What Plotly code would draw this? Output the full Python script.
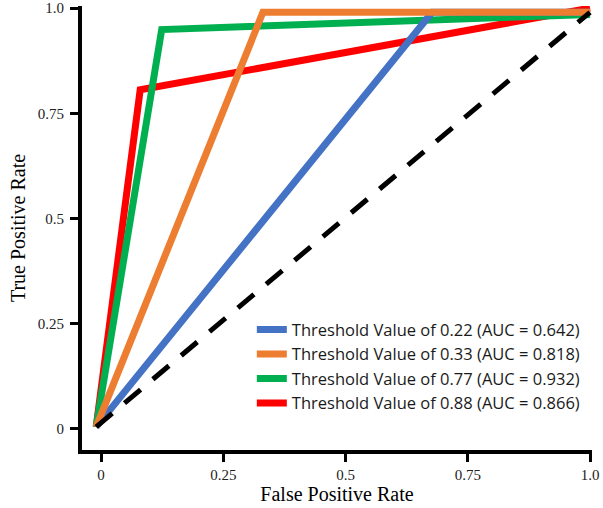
import plotly.graph_objects as go

# Data
labels = [
    "Threshold Value of 0.22 (AUC = 0.642)",
    "Threshold Value of 0.33 (AUC = 0.818)",
    "Threshold Value of 0.77 (AUC = 0.932)",
    "Threshold Value of 0.88 (AUC = 0.866)",
]
fpr_022 = [-0.01, 0.677, 1.0]
tpr_022 = [0.005, 0.99, 0.99]
fpr_033 = [-0.01, 0.331, 1.0]
tpr_033 = [0.005, 0.99, 0.99]
fpr_077 = [-0.01, 0.124, 1.0]
tpr_077 = [0.005, 0.949, 0.985]
fpr_088 = [-0.01, 0.08, 1.0]
tpr_088 = [0.005, 0.806, 1.0]
fpr_chance = [-0.01, 1.0]
tpr_chance = [0.005, 0.99]

colors = ["#4472C4", "#ED7D31", "#00B050", "#FF0000"]

tick_vals = [0, 0.25, 0.5, 0.75, 1.0]
x_tick_text = ["0", "0.25", "0.5", "0.75", "1.0"]
y_tick_text = ["0", "0.25", "0.5", "0.75", "1.0"]

series = [
    (fpr_022, tpr_022, labels[0], colors[0], 1),
    (fpr_033, tpr_033, labels[1], colors[1], 2),
    (fpr_077, tpr_077, labels[2], colors[2], 3),
    (fpr_088, tpr_088, labels[3], colors[3], 4),
]
# drawing order (bottom to top): red, green, blue, orange
draw_order = [3, 2, 0, 1]

fig = go.Figure()
for i in draw_order:
    x, y, name, c, rank = series[i]
    fig.add_trace(go.Scatter(
        x=x, y=y, mode="lines", name=name,
        line=dict(color=c, width=7),
        legendrank=rank,
    ))

fig.add_trace(go.Scatter(
    x=fpr_chance, y=tpr_chance, mode="lines", showlegend=False,
    line=dict(color="black", width=5, dash="21px,16px"),
))

serif = "Liberation Serif"
axis_common = dict(
    showline=True, linecolor="black", linewidth=4,
    ticks="outside", ticklen=8, tickwidth=3, tickcolor="black",
    showgrid=False, zeroline=False, automargin=False,
    tickfont=dict(family=serif, size=15, color="#222"),
    tickvals=tick_vals,
)

fig.update_layout(
    width=603, height=508,
    margin=dict(l=82, r=11, t=6, b=58),
    paper_bgcolor="white", plot_bgcolor="white",
    font=dict(family=serif, size=15, color="#222"),
    xaxis=dict(range=[-0.039, 1.004], ticktext=x_tick_text,
               title=dict(text="False Positive Rate", standoff=4,
                          font=dict(family=serif, size=20, color="black")),
               **axis_common),
    yaxis=dict(range=[-0.05, 1.005], ticktext=y_tick_text,
               ticklabelstandoff=3,
               title=dict(text="True Positive Rate", standoff=8,
                          font=dict(family=serif, size=20, color="black")),
               **axis_common),
    legend=dict(
        x=0.333, y=0.31, xanchor="left", yanchor="top",
        font=dict(family="Open Sans", size=16.5, color="#1a1a1a"),
        bgcolor="rgba(0,0,0,0)", tracegroupgap=0,
    ),
    showlegend=True,
)

fig.write_html(
    "out.html",
    config={"displayModeBar": False},
    post_script="document.body.style.margin='0';document.body.style.padding='0';",
)
